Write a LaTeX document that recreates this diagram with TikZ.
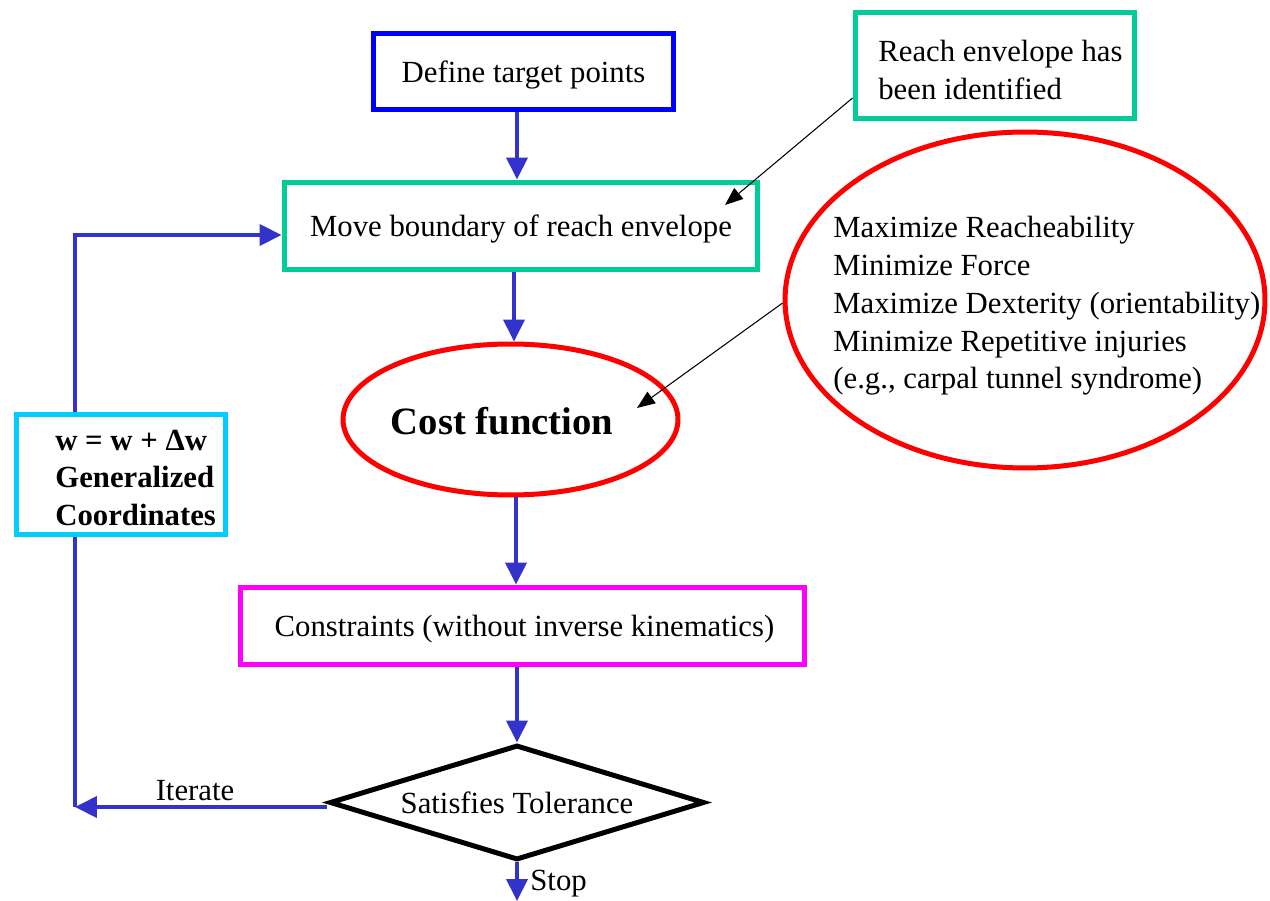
\documentclass[tikz,border=0pt]{standalone}
\usepackage{fontspec}
\setmainfont{Liberation Serif}
\usetikzlibrary{shapes.geometric,arrows.meta}
\definecolor{arrblue}{HTML}{3333CC}
\definecolor{boxblue}{HTML}{0000FF}
\definecolor{teal}{HTML}{00CC99}
\definecolor{magbox}{HTML}{FF00FF}
\definecolor{cyanbox}{HTML}{00CCFF}
\tikzset{
  every node/.style={font=\fontsize{17.5}{21.5}\selectfont, inner sep=0pt},
  box/.style={draw, rectangle, line width=0.1cm, text depth=0pt},
  arr/.style={draw=arrblue, line width=0.08cm, -{Triangle[length=0.44cm,width=0.42cm]}},
  conn/.style={draw=arrblue, line width=0.08cm},
  thinarr/.style={draw=black, line width=0.6pt, -{Triangle[length=0.36cm,width=0.28cm]}}
}
\begin{document}
\begin{tikzpicture}[x=0.02cm,y=-0.02cm]
\useasboundingbox (0,0) rectangle (1270,901);
% nodes
\node[box, draw=boxblue, minimum width=6.0cm, minimum height=1.52cm] (def) at (523.5,72) {Define target points};
\node[box, draw=teal, minimum width=9.48cm, minimum height=1.76cm] (move) at (521,226) {Move boundary of reach envelope};
\node[box, draw=teal, minimum width=5.6cm, minimum height=2.14cm] (reach) at (995,65.5) {};
\node[anchor=west, align=left] (reachtxt) at (878,70) {Reach envelope has\\been identified};
\node[draw=red, ellipse, line width=0.1cm, minimum width=6.7cm, minimum height=3.02cm] (cost) at (510.5,419.5) {};
\node[font=\bfseries\fontsize{22}{26}\selectfont] (costtxt) at (502,421) {Cost function};
\node[draw=red, ellipse, line width=0.1cm, minimum width=9.6cm, minimum height=6.72cm] (big) at (1025,300) {};
\node[anchor=west, align=left] (bigtxt) at (833,306) {Maximize Reacheability\\Minimize Force\\Maximize Dexterity (orientability)\\Minimize Repetitive injuries\\(e.g., carpal tunnel syndrome)};
\node[box, draw=magbox, minimum width=11.3cm, minimum height=1.56cm] (cons) at (522.5,626) {\hspace*{0.08cm}Constraints (without inverse kinematics)};
\node[draw=black, diamond, line width=0.1cm, aspect=3.29, minimum width=7.5cm, minimum height=2.3cm] (dia) at (517,802.5) {Satisfies Tolerance};
\node[box, draw=cyanbox, minimum width=4.2cm, minimum height=2.42cm] (lbox) at (121,474.5) {};
\node[anchor=west, align=left, font=\bfseries\fontsize{17.5}{21.5}\selectfont] (ltxt) at (55,478) {w = w + Δw\\Generalized\\Coordinates};
% coordinates
\coordinate (corner) at (75,807);
\coordinate (stopend) at (517,901);
\coordinate (p1) at (725,205);
\coordinate (p2) at (637,408);
\coordinate (topturn) at (75,235);
% connectors
\draw[arr] (517,0 |- def.south) -- (517,0 |- move.north);
\draw[arr] (514,0 |- move.south) -- (514,0 |- cost.north);
\draw[arr] (516,0 |- cost.south) -- (516,0 |- cons.north);
\draw[arr] (517,0 |- cons.south) -- (dia.north);
\draw[arr] (dia.south) -- (stopend);
\node[anchor=west] (stoplbl) at (530,884) {Stop};
\draw[arr] (dia.west |- corner) -- (corner);
\node (itlbl) at (195,791) {Iterate};
\draw[conn] (75,0 |- lbox.south) -- (corner);
\draw[arr] (75,0 |- lbox.north) -- (topturn) -- (move.west |- topturn);
\draw[thinarr] (reach.west |- 0,98) -- (p1);
\draw[thinarr] (big.west |- 0,303) -- (p2);
\end{tikzpicture}
\end{document}
